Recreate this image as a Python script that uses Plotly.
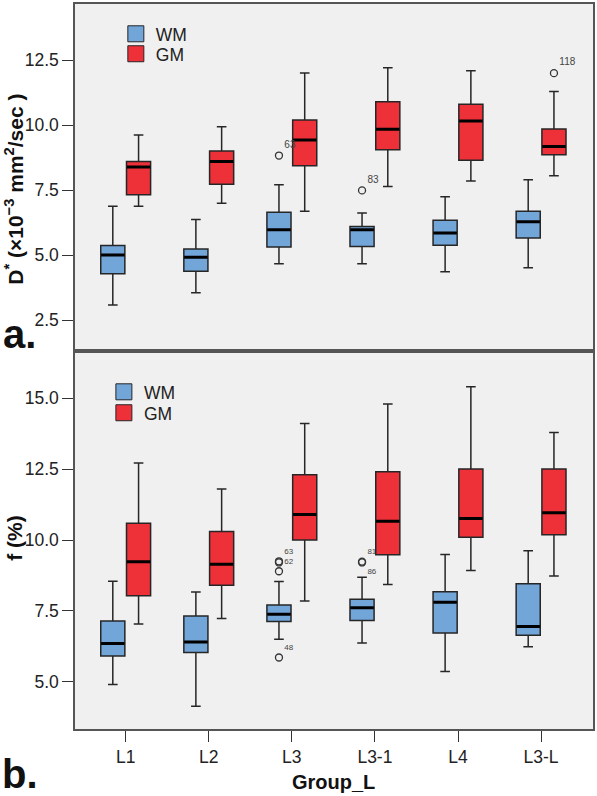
import plotly.graph_objects as go

# ---------------- data ----------------
categories = ["L1", "L2", "L3", "L3-1", "L4", "L3-L"]
groups = ["WM", "GM"]

# Panel a: D* (x10^-3 mm^2/sec)
a_wm_low = [3.08, 3.55, 4.67, 4.67, 4.36, 4.51]
a_wm_q1 = [4.28, 4.38, 5.31, 5.33, 5.38, 5.66]
a_wm_med = [5.00, 4.92, 5.98, 5.98, 5.85, 6.28]
a_wm_q3 = [5.37, 5.24, 6.65, 6.10, 6.34, 6.69]
a_wm_high = [6.88, 6.37, 7.71, 6.62, 7.25, 7.90]

a_gm_low = [6.88, 7.00, 6.69, 7.64, 7.85, 8.05]
a_gm_q1 = [7.32, 7.73, 8.44, 9.05, 8.65, 8.86]
a_gm_med = [8.39, 8.60, 9.43, 9.84, 10.16, 9.18]
a_gm_q3 = [8.60, 9.01, 10.20, 10.90, 10.80, 9.85]
a_gm_high = [9.62, 9.94, 12.01, 12.21, 12.09, 11.29]

a_out_group = ["WM", "WM", "GM"]
a_out_cat = ["L3", "L3-1", "L3-L"]
a_out_val = [8.83, 7.49, 12.00]
a_out_id = ["63", "83", "118"]

a_yticks = [2.5, 5.0, 7.5, 10.0, 12.5]

# Panel b: f (%)
b_wm_low = [4.91, 4.14, 6.50, 6.37, 5.37, 6.24]
b_wm_q1 = [5.91, 6.04, 7.13, 7.16, 6.72, 6.64]
b_wm_med = [6.35, 6.41, 7.38, 7.61, 7.81, 6.95]
b_wm_q3 = [7.15, 7.32, 7.71, 7.91, 8.18, 8.46]
b_wm_high = [8.55, 8.17, 8.54, 8.69, 9.49, 9.62]

b_gm_low = [7.04, 7.23, 7.85, 8.43, 8.93, 8.73]
b_gm_q1 = [8.04, 8.41, 10.00, 9.48, 10.10, 10.19]
b_gm_med = [9.23, 9.15, 10.90, 10.66, 10.76, 10.96]
b_gm_q3 = [10.59, 10.30, 12.30, 12.41, 12.50, 12.50]
b_gm_high = [12.71, 11.80, 14.11, 14.79, 15.40, 13.79]

b_out_group = ["WM", "WM", "WM", "WM", "WM", "WM"]
b_out_cat = ["L3", "L3", "L3", "L3", "L3-1", "L3-1"]
b_out_val = [9.25, 9.21, 8.90, 5.86, 9.24, 9.21]
b_out_id = ["63", "62", "", "48", "81", "86"]
b_out_pos = ["top right", "middle right", "middle right", "top right", "top right", "bottom right"]

b_yticks = [5.0, 7.5, 10.0, 12.5, 15.0]

# ---------------- style ----------------
W, H = 597, 796
ML, MR, MT, MB = 75, 2, 2, 67
PW, PH = W - ML - MR, H - MT - MB
SPLIT_PX = 350  # pixel row of the line between the panels

def px_x(p):
    return (p - ML) / PW

def px_y(p):
    return 1 - (p - MT) / PH

split = px_y(SPLIT_PX)

COL = {"WM": "#72a5d8", "GM": "#ee3139"}
EDGE = "#262626"
OFF = {"WM": -0.155, "GM": 0.155}
BOXW = 0.29
FONT = "Liberation Sans, Arial, sans-serif"

fig = go.Figure()

def add_panel(stats, xa, ya):
    for g in groups:
        low, q1, med, q3, high = stats[g]
        xs = [i + OFF[g] for i in range(len(categories))]
        fig.add_trace(go.Box(
            x=xs, q1=q1, median=med, q3=q3, lowerfence=low, upperfence=high,
            width=BOXW, fillcolor=COL[g], line=dict(color=EDGE, width=1.5),
            whiskerwidth=0.4, boxpoints=False, showlegend=False,
            hoverinfo="skip", xaxis=xa, yaxis=ya,
        ))
        # thick median line
        fig.add_trace(go.Box(
            x=xs, q1=med, median=med, q3=med, lowerfence=med, upperfence=med,
            width=BOXW * 0.97, fillcolor="rgba(0,0,0,0)",
            line=dict(color="#000000", width=3), whiskerwidth=0,
            boxpoints=False, showlegend=False, hoverinfo="skip",
            xaxis=xa, yaxis=ya,
        ))

def add_outliers(grp, cat, val, ids, pos, size, xa, ya):
    xs = [categories.index(c) + OFF[g] for g, c in zip(grp, cat)]
    fig.add_trace(go.Scatter(
        x=xs, y=val, text=ids, mode="markers+text", textposition=pos,
        marker=dict(symbol="circle-open", size=7, color="#333333",
                    line=dict(width=1.3, color="#333333")),
        textfont=dict(size=size, color="#444444", family=FONT),
        showlegend=False, hoverinfo="skip", xaxis=xa, yaxis=ya,
        cliponaxis=False,
    ))

add_panel({"WM": (a_wm_low, a_wm_q1, a_wm_med, a_wm_q3, a_wm_high),
           "GM": (a_gm_low, a_gm_q1, a_gm_med, a_gm_q3, a_gm_high)}, "x", "y")
add_panel({"WM": (b_wm_low, b_wm_q1, b_wm_med, b_wm_q3, b_wm_high),
           "GM": (b_gm_low, b_gm_q1, b_gm_med, b_gm_q3, b_gm_high)}, "x2", "y2")

add_outliers(a_out_group, a_out_cat, a_out_val, a_out_id,
             ["top right"] * len(a_out_id), 10, "x", "y")
add_outliers(b_out_group, b_out_cat, b_out_val, b_out_id, b_out_pos, 8, "x2", "y2")

# legend entries: one small legend per entry so that each can be placed exactly
legend_spots = {  # (legend name, left px, centre-y px)
    ("a", "WM"): ("legend", 116, 32),
    ("a", "GM"): ("legend2", 116, 52),
    ("b", "WM"): ("legend3", 104, 391),
    ("b", "GM"): ("legend4", 104, 412),
}
legend_layout = {}
for (panel, g), (leg, lx, cy) in legend_spots.items():
    xa, ya = ("x", "y") if panel == "a" else ("x2", "y2")
    fig.add_trace(go.Scatter(
        x=[None], y=[None], mode="markers", name=g, legend=leg,
        marker=dict(symbol="square", size=16, color=COL[g],
                    line=dict(color=EDGE, width=1)),
        xaxis=xa, yaxis=ya, hoverinfo="skip",
    ))
    legend_layout[leg] = dict(x=px_x(lx), y=px_y(cy), xanchor="left", yanchor="middle",
                              bgcolor="rgba(0,0,0,0)", font=dict(size=17.5),
                              itemsizing="trace", borderwidth=0)

xrange = [-0.61, 5.625]
axis_common = dict(showline=True, mirror=True, linecolor="#555555", linewidth=1.5,
                   showgrid=False, zeroline=False)
tick_common = dict(ticks="outside", ticklen=11, tickcolor="#333333", tickwidth=1.3)

fig.update_layout(
    width=W, height=H,
    margin=dict(l=ML, r=MR, t=MT, b=MB, pad=0),
    paper_bgcolor="white", plot_bgcolor="#f0f0f0",
    font=dict(family=FONT, size=17.5, color="#222222"),
    boxmode="overlay",
    xaxis=dict(domain=[0, 1], anchor="y", range=xrange, showticklabels=False,
               ticks="", **axis_common),
    yaxis=dict(domain=[split, 1], anchor="x", range=[1.31, 14.66],
               tickvals=a_yticks, tickformat=".1f", **tick_common, **axis_common),
    xaxis2=dict(domain=[0, 1], anchor="y2", range=xrange,
                tickvals=list(range(len(categories))), ticktext=categories,
                **tick_common, **axis_common),
    yaxis2=dict(domain=[0, split], anchor="x2", range=[3.34, 16.66],
                tickvals=b_yticks, tickformat=".1f", **tick_common, **axis_common),
    showlegend=True,
    **legend_layout,
)

ann = [
    dict(text="D<sup>*</sup> (×10<sup>−3</sup> mm<sup>2</sup>/sec )",
         x=px_x(14), y=px_y(188), textangle=-90, font=dict(size=21, color="#111111"),
         bold=True),
    dict(text="f (%)", x=px_x(14), y=px_y(537), textangle=-90,
         font=dict(size=21, color="#111111"), bold=True),
    dict(text="a.", x=px_x(19), y=px_y(333), font=dict(size=40, color="#111111"), bold=True),
    dict(text="b.", x=px_x(20), y=px_y(774), font=dict(size=40, color="#111111"), bold=True),
    dict(text="Group_L", x=px_x(334), y=px_y(782), font=dict(size=20, color="#111111"),
         bold=True),
]
for a in ann:
    bold = a.pop("bold", False)
    if bold:
        a["text"] = "<b>" + a["text"] + "</b>"
    fig.add_annotation(xref="paper", yref="paper", showarrow=False,
                       xanchor="center", yanchor="middle", borderpad=0, **a)

fig.write_html(
    "out.html",
    config={"displayModeBar": False},
    post_script="document.body.style.margin='0px';document.body.style.overflow='hidden';",
)
